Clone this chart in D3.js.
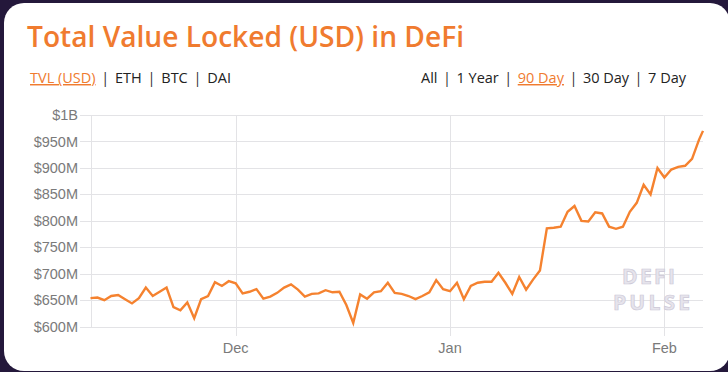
<!DOCTYPE html>
<html>
<head>
<meta charset="utf-8">
<script src="https://cdn.jsdelivr.net/npm/d3@7"></script>
<style>
  html, body { margin: 0; padding: 0; background: #24183b; }
  svg { display: block; }
</style>
</head>
<body>
<svg id="chart" width="728" height="372"></svg>
<script>
// daily TVL readings in $M, starting 2019-11-10, plus the latest intraday reading
const startDay = "2019-11-10";
const tvlDaily = [
  654, 655, 650, 658, 660, 652, 644, 654, 674, 658,
  666, 674, 637, 631, 646, 616, 652, 658, 684, 677,
  686, 682, 663, 666, 671, 653, 657, 664, 674, 680,
  670, 657, 662, 663, 669, 665, 666, 641, 607, 661,
  653, 665, 667, 683, 664, 662, 658, 652, 658, 665,
  688, 671, 667, 683, 652, 677, 683, 685, 685, 702,
  683, 662, 694, 670, 689, 706, 786, 787, 789, 817,
  828, 800, 799, 816, 814, 789, 785, 789, 817, 834,
  868, 850, 900, 882, 897, 902, 904, 917, 953
];
const latestTime = "2020-02-06T14:00";
const latestValue = 970;

const yTicks = [600, 650, 700, 750, 800, 850, 900, 950, 1000];
const xTicks = ["2019-12-01", "2020-01-01", "2020-02-01"];
const xTickLabels = ["Dec", "Jan", "Feb"];
const metricTabs = ["TVL (USD)", "ETH", "BTC", "DAI"];
const rangeTabs = ["All", "1 Year", "90 Day", "30 Day", "7 Day"];
const activeMetric = "TVL (USD)";
const activeRange = "90 Day";

const orange = "#f07b2f";
const parseDay = d3.utcParse("%Y-%m-%d");
const parseTime = d3.utcParse("%Y-%m-%dT%H:%M");

const data = tvlDaily.map((v, i) => ({ date: d3.utcDay.offset(parseDay(startDay), i), value: v }));
data.push({ date: parseTime(latestTime), value: latestValue });

const svg = d3.select("#chart");

// card
svg.append("rect")
  .attr("x", 4).attr("y", 3)
  .attr("width", 726).attr("height", 368)
  .attr("rx", 20)
  .attr("fill", "#fff");

// title
svg.append("text")
  .attr("x", 27).attr("y", 47)
  .attr("font-family", "'Open Sans', sans-serif")
  .attr("font-weight", 600)
  .attr("font-size", 28)
  .attr("fill", orange)
  .attr("textLength", 437)
  .attr("lengthAdjust", "spacingAndGlyphs")
  .text("Total Value Locked (USD) in DeFi");

// tab rows
function tabRow(items, active, x0, x1) {
  const g = svg.append("g").attr("font-family", "'Open Sans', sans-serif").attr("font-size", 14.5);
  const pieces = [];
  items.forEach((t, i) => {
    if (i > 0) pieces.push({ t: "|", sep: true });
    pieces.push({ t: t, sep: false });
  });
  const nodes = pieces.map(p => {
    const el = g.append("text")
      .attr("y", 83)
      .attr("fill", p.sep ? "#333" : (p.t === active ? orange : "#222"))
      .attr("text-decoration", p.t === active ? "underline" : null)
      .text(p.t);
    return { el: el, w: el.node().getComputedTextLength() };
  });
  const gap = (x1 - x0 - d3.sum(nodes, n => n.w)) / (nodes.length - 1);
  let x = x0;
  nodes.forEach(n => { n.el.attr("x", x); x += n.w + gap; });
}
tabRow(metricTabs, activeMetric, 30, 231);
tabRow(rangeTabs, activeRange, 421, 686);

// scales
const x = d3.scaleUtc()
  .domain(d3.extent(data, d => d.date))
  .range([90.5, 703]);
const y = d3.scaleLinear()
  .domain([600, 1000])
  .range([326.7, 115]);

const grid = "#e3e3e6";

// horizontal grid
svg.append("g").selectAll("line")
  .data(yTicks)
  .join("line")
  .attr("x1", 80).attr("x2", 703)
  .attr("y1", d => Math.round(y(d)) + 0.5)
  .attr("y2", d => Math.round(y(d)) + 0.5)
  .attr("stroke", grid);

// left axis line
svg.append("line")
  .attr("x1", 91.5).attr("x2", 91.5)
  .attr("y1", y(1000)).attr("y2", y(600) + 1)
  .attr("stroke", grid);

// vertical grid at month starts
svg.append("g").selectAll("line")
  .data(xTicks)
  .join("line")
  .attr("x1", d => Math.round(x(parseDay(d))) + 0.5)
  .attr("x2", d => Math.round(x(parseDay(d))) + 0.5)
  .attr("y1", y(1000)).attr("y2", 336)
  .attr("stroke", grid);

// y labels
svg.append("g").selectAll("text")
  .data(yTicks)
  .join("text")
  .attr("x", 78)
  .attr("y", d => y(d))
  .attr("dy", "0.35em")
  .attr("text-anchor", "end")
  .attr("font-family", "'Liberation Sans', Arial, sans-serif")
  .attr("font-size", 14.5)
  .attr("fill", "#7a7a7a")
  .text(d => d >= 1000 ? "$" + d / 1000 + "B" : "$" + d + "M");

// x labels
svg.append("g").selectAll("text")
  .data(xTicks)
  .join("text")
  .attr("x", d => x(parseDay(d)))
  .attr("y", 353)
  .attr("text-anchor", "middle")
  .attr("font-family", "'Liberation Sans', Arial, sans-serif")
  .attr("font-size", 14.5)
  .attr("fill", "#7a7a7a")
  .text((d, i) => xTickLabels[i]);

// watermark
const wm = svg.append("g")
  .attr("font-family", "'Open Sans', sans-serif")
  .attr("font-weight", 700)
  .attr("font-size", 21)
  .attr("text-anchor", "middle")
  .attr("fill", "#e6e4ec")
  .attr("stroke", "#cdc9d7")
  .attr("stroke-width", 0.7);
wm.append("text").attr("x", 648.5).attr("y", 283.5).attr("textLength", 53).text("DEFI");
wm.append("text").attr("x", 651.5).attr("y", 310).attr("textLength", 77).text("PULSE");

// line
const line = d3.line()
  .x(d => x(d.date))
  .y(d => y(d.value));

svg.append("path")
  .datum(data)
  .attr("d", line)
  .attr("fill", "none")
  .attr("stroke", "#f5822f")
  .attr("stroke-width", 2.4)
  .attr("stroke-linejoin", "miter")
  .attr("stroke-miterlimit", 4);
</script>
</body>
</html>
